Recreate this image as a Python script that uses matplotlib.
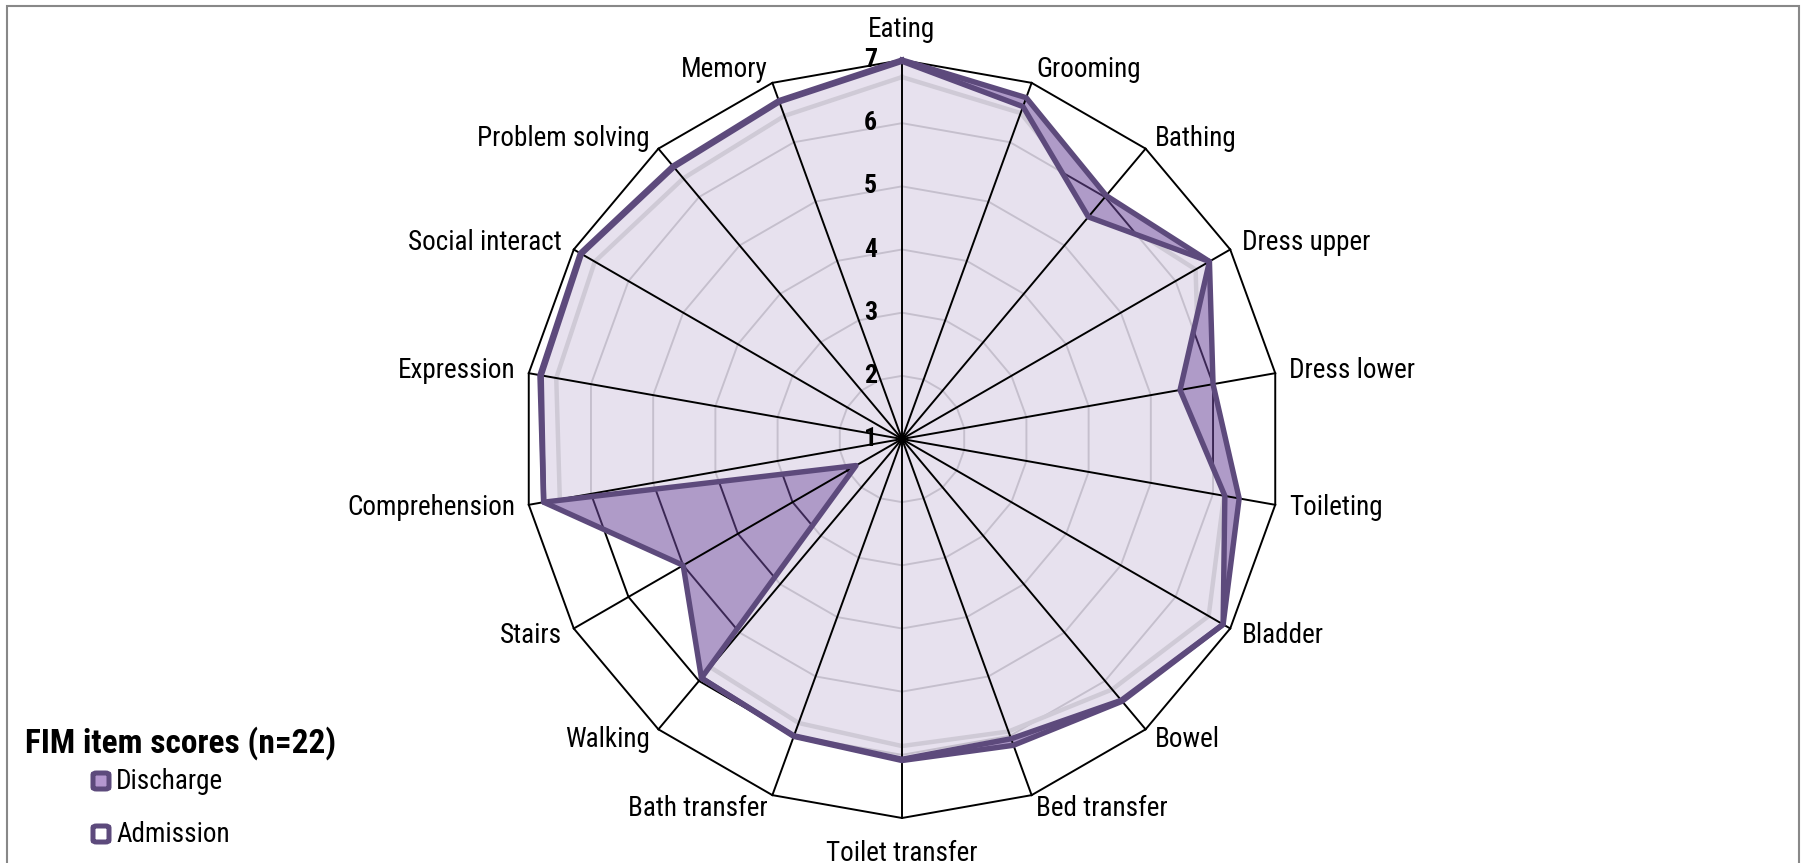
import numpy as np
import matplotlib
matplotlib.use("Agg")
import matplotlib.pyplot as plt
from matplotlib.transforms import Affine2D
from matplotlib.patches import FancyBboxPatch, Rectangle
from matplotlib import font_manager

# ---------------- data ----------------
categories = ["Eating", "Grooming", "Bathing", "Dress upper", "Dress lower", "Toileting",
              "Bladder", "Bowel", "Bed transfer", "Toilet transfer", "Bath transfer",
              "Walking", "Stairs", "Comprehension", "Expression", "Social interact",
              "Problem solving", "Memory"]
discharge = [7.00, 6.75, 6.03, 6.62, 6.00, 6.42, 6.87, 6.42, 6.16, 6.09, 6.01,
             5.94, 5.00, 6.76, 6.82, 6.88, 6.64, 6.70]
admission = [6.98, 6.60, 5.59, 6.62, 5.47, 6.19, 6.87, 6.40, 6.05, 6.07, 6.00,
             5.94, 1.84, 6.76, 6.80, 6.86, 6.62, 6.68]
ticks = [1, 2, 3, 4, 5, 6, 7]
series_names = ["Discharge", "Admission"]
legend_title = "FIM item scores (n=22)"

# ---------------- style ----------------
avail = {f.name for f in font_manager.fontManager.ttflist}
fam = [f for f in ["Liberation Sans Narrow", "Arial Narrow", "Roboto Condensed",
                   "Liberation Sans", "DejaVu Sans"] if f in avail]
plt.rcParams["font.family"] = fam

DARK = "#5d4a7c"
FILL_D = (109 / 255, 73 / 255, 155 / 255)
MED = "#b497cf"

W, H = 1803, 863
cx, cy, R = 902, 439, 379

fig = plt.figure(figsize=(W / 100, H / 100), dpi=100)
ax = fig.add_axes([(cx - R) / W, (H - cy - R) / H, 2 * R / W, 2 * R / H],
                  projection="polar")
ax.set_theta_zero_location("N")
ax.set_theta_direction(-1)
ax.set_ylim(ticks[0], ticks[-1])
ax.set_axis_off()

n = len(categories)
theta = np.linspace(0, 2 * np.pi, n, endpoint=False)
th_c = np.append(theta, theta[0])
d_c = np.append(discharge, discharge[0])
a_c = np.append(admission, admission[0])

# ring gridlines (polygons)
for t in ticks[1:]:
    ax.plot(th_c, np.full(n + 1, t), color="black", lw=1.4, zorder=1, clip_on=False)

# discharge fill (semi-transparent purple), admission fill (semi-transparent white)
ax.fill(th_c, d_c, facecolor=FILL_D, alpha=0.55, edgecolor="none", zorder=2)
adm_poly = ax.fill(th_c, a_c, facecolor="white", alpha=0.71, edgecolor="none", zorder=3)[0]

# soft inner shadow line
shrink = (ax.transData + ax.transAxes.inverted()
          + Affine2D().translate(-0.5, -0.5).scale(0.955).translate(0.5, 0.5)
          + ax.transAxes)
sh, = ax.plot(th_c, d_c, color="#cfcad6", lw=3.2, zorder=4, transform=shrink)
sh.set_clip_path(adm_poly)

# spokes
for th in theta:
    ax.plot([th, th], [ticks[0], ticks[-1]], color="black", lw=1.4, zorder=5, clip_on=False)

# series outlines
ax.plot(th_c, d_c, color=DARK, lw=3.9, zorder=6, clip_on=False)
ax.plot(th_c, a_c, color=DARK, lw=3.9, zorder=6, clip_on=False)

# value labels
for t in ticks:
    ax.annotate(str(t), xy=(0, t), xytext=(-18, 0), textcoords="offset points",
                ha="right", va="center", fontsize=18.5, fontweight="bold", zorder=7)

# category labels
for th, name in zip(theta, categories):
    phi = np.pi / 2 - th
    c, s = np.cos(phi), np.sin(phi)
    if abs(c) < 0.05:
        ha = "center"
        va = "bottom" if s > 0 else "top"
        d = 12 if s > 0 else 16
    else:
        ha = "left" if c > 0 else "right"
        va = "center"
        d = 10
    ax.annotate(name, xy=(th, ticks[-1]), xytext=(d * c, d * s), textcoords="offset points",
                ha=ha, va=va, fontsize=19.5, annotation_clip=False)

# legend (title + entries)
def fx(px):
    return px / W

def fy(py):
    return 1 - py / H

fig.text(fx(25), fy(743), legend_title, ha="left", va="center", fontsize=24, fontweight="bold")
for i, (name, fc) in enumerate(zip(series_names, [MED, "white"])):
    yc = 781 + i * 53
    box = FancyBboxPatch((fx(93), fy(yc + 8)), fx(16), 16 / H,
                         boxstyle="round,pad=0,rounding_size=0.002",
                         transform=fig.transFigure, facecolor=fc, edgecolor=DARK, lw=3.6)
    fig.add_artist(box)
    fig.text(fx(116), fy(yc), name, ha="left", va="center", fontsize=19.5)

# outer frame
fig.add_artist(Rectangle((fx(7), -0.1), fx(1799 - 7), (H - 5.7) / H + 0.1,
                         transform=fig.transFigure, facecolor="none",
                         edgecolor="#888888", lw=1.5))

fig.savefig("out.png", dpi=100)
